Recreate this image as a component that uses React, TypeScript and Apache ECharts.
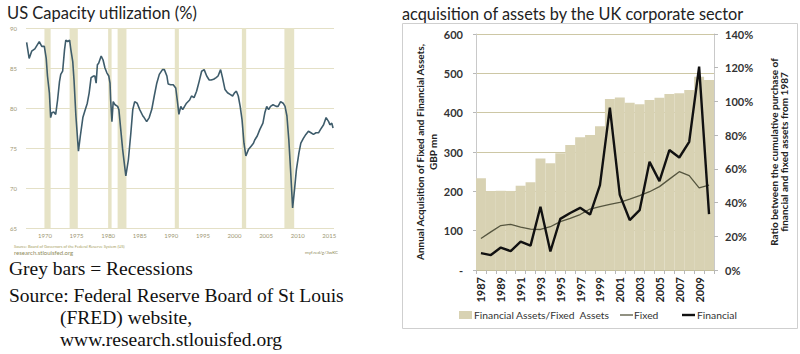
import React, { useEffect, useRef } from "react";
import * as echarts from "echarts";

// ---------- Left chart: US capacity utilization (%) ----------
const capDates = [
  1967.1, 1967.5, 1967.9, 1968.4, 1969.1, 1969.5, 1969.9, 1970.2, 1970.4, 1970.7,
  1970.9, 1971.1, 1971.4, 1971.7, 1972.0, 1972.3, 1972.5, 1972.8, 1973.1, 1973.3,
  1973.6, 1973.9, 1974.1, 1974.4, 1974.6, 1974.9, 1975.3, 1975.6, 1976.0, 1976.3,
  1976.7, 1977.0, 1977.3, 1977.7, 1977.9, 1978.1, 1978.3, 1978.5, 1978.9, 1979.2,
  1979.5, 1979.8, 1980.1, 1980.3, 1980.4, 1980.6, 1980.8, 1981.1, 1981.5, 1981.7,
  1982.0, 1982.3, 1982.8, 1983.2, 1983.6, 1983.9, 1984.2, 1984.6, 1985.0, 1985.5,
  1985.7, 1986.1, 1986.5, 1986.9, 1987.3, 1987.7, 1988.1, 1988.6, 1988.9, 1989.3,
  1989.5, 1989.9, 1990.3, 1990.7, 1991.0, 1991.2, 1991.5, 1991.8, 1992.1, 1992.4,
  1992.9, 1993.2, 1993.6, 1994.0, 1994.4, 1994.8, 1995.2, 1995.6, 1996.0, 1996.3,
  1996.7, 1997.1, 1997.4, 1997.8, 1998.1, 1998.5, 1998.9, 1999.3, 1999.7, 2000.0,
  2000.3, 2000.6, 2000.9, 2001.2, 2001.5, 2001.8, 2002.2, 2002.6, 2003.0, 2003.2,
  2003.6, 2004.0, 2004.5, 2004.8, 2005.1, 2005.4, 2005.7, 2006.1, 2006.6, 2006.9,
  2007.3, 2007.7, 2008.0, 2008.3, 2008.6, 2008.9, 2009.2, 2009.5, 2009.8, 2010.2,
  2010.5, 2010.9, 2011.3, 2011.7, 2012.1, 2012.5, 2012.9, 2013.3, 2013.6, 2014.1,
  2014.5, 2014.9, 2015.1, 2015.4, 2015.6,
];
const capValues = [
  88.2, 86.2, 87.1, 87.4, 88.3, 87.7, 87.7, 86.2, 84.0, 81.9,
  78.8, 79.4, 79.5, 79.2, 81.0, 83.3, 84.2, 84.6, 87.3, 88.5,
  88.3, 88.5, 87.3, 85.8, 83.5, 79.0, 74.6, 76.5, 78.8, 79.6,
  80.6, 81.9, 83.8, 84.0, 84.0, 83.1, 85.4, 85.6, 86.5, 86.0,
  85.0, 84.4, 84.0, 83.1, 81.0, 78.3, 80.8, 80.4, 80.2, 79.8,
  77.3, 74.8, 71.5, 73.5, 76.9, 79.8, 80.8, 80.6, 79.8, 79.0,
  78.8, 78.3, 78.8, 79.8, 81.5, 83.1, 84.2, 84.8, 84.8, 84.0,
  83.0, 82.9, 82.9, 82.5, 80.6, 79.2, 80.2, 79.8, 80.2, 80.6,
  81.0, 81.5, 81.3, 82.1, 83.3, 84.6, 84.8, 84.0, 83.5, 83.5,
  83.6, 83.8, 84.0, 84.8, 83.8, 82.3, 81.9, 81.7, 81.5, 81.9,
  82.1, 81.5, 80.2, 78.5, 75.6, 74.0, 74.8, 75.2, 75.6, 76.0,
  76.5, 77.3, 78.1, 79.4, 80.2, 79.8, 80.2, 80.4, 80.2, 80.2,
  80.8, 80.6, 80.2, 79.0, 76.0, 71.9, 67.5, 69.8, 72.3, 74.4,
  75.6, 76.2, 76.7, 77.1, 76.9, 76.7, 76.9, 76.9, 77.3, 77.9,
  78.8, 78.3, 77.9, 78.1, 77.5,
];
const recessionStarts = [1969.92, 1973.9, 1980.0, 1981.5, 1990.55, 2001.17, 2007.9];
const recessionEnds = [1970.9, 1975.2, 1980.55, 1982.9, 1991.2, 2001.85, 2009.45];
const capXLabels = [1970, 1975, 1980, 1985, 1990, 1995, 2000, 2005, 2010, 2015];

// ---------- Right chart: UK corporate sector ----------
const ukYears = [
  "1987", "1988", "1989", "1990", "1991", "1992", "1993", "1994", "1995", "1996", "1997", "1998",
  "1999", "2000", "2001", "2002", "2003", "2004", "2005", "2006", "2007", "2008", "2009", "2010",
];
const ratioPct = [
  54.5, 46.8, 47.0, 46.9, 50.0, 52.0, 66.2, 63.3, 69.2, 74.1, 78.7, 80.1,
  85.3, 101.4, 102.4, 99.2, 98.3, 100.8, 102.2, 104.4, 104.8, 106.8, 114.7, 112.7,
];
const fixedVals = [
  80, 97, 113, 116, 109, 104, 103, 110, 123, 131, 141, 155,
  161, 167, 172, 180, 189, 199, 212, 231, 250, 240, 209, 216,
];
const financialVals = [
  43, 38, 57, 48, 72, 62, 161, 47, 130, 145, 158, 141,
  216, 413, 191, 127, 152, 275, 226, 305, 286, 326, 517, 142,
];

const BAR_COLOR = "#d8d2b3";
const FIXED_COLOR = "#55553f";
const FIN_COLOR = "#111111";
const SANS = "Lato";
const SERIF = `19.5px "Liberation Serif"`;

export default function App() {
  const ref = useRef<HTMLDivElement>(null);

  useEffect(() => {
    const chart = echarts.init(ref.current!, null, { renderer: "svg" });
    const capData = capDates.map((d, i) => [d, capValues[i]]);
    const recessionAreas = recessionStarts.map((s, i) => [{ xAxis: s }, { xAxis: recessionEnds[i] }]);

    chart.setOption({
      animation: false,
      backgroundColor: "#ffffff",
      grid: [
        { left: 26, top: 28, width: 308, height: 200 },
        { left: 476, top: 34, width: 238, height: 236 },
      ],
      xAxis: [
        {
          gridIndex: 0,
          type: "value",
          min: 1967,
          max: 2015.75,
          axisLine: { show: false },
          axisTick: { show: false },
          splitLine: { show: false },
          axisLabel: {
            customValues: capXLabels,
            formatter: (v: number) => String(v),
            fontSize: 6,
            color: "#9d9774",
            fontFamily: SANS,
            margin: 4,
          },
        },
        {
          gridIndex: 1,
          type: "category",
          data: ukYears,
          axisLine: { lineStyle: { color: "#c4bf9c" } },
          axisTick: { show: true, interval: 0, length: 4, lineStyle: { color: "#b8b8b8" } },
          axisLabel: {
            rotate: 90,
            interval: 1,
            fontSize: 11,
            fontWeight: "bold",
            fontFamily: SANS,
            color: "#222",
            margin: 7,
          },
        },
      ],
      yAxis: [
        {
          gridIndex: 0,
          type: "value",
          min: 65,
          max: 90,
          interval: 5,
          axisLine: { show: false },
          axisTick: { show: false },
          splitLine: { lineStyle: { color: "#e4e0c6", width: 1 } },
          axisLabel: { fontSize: 6, color: "#9d9774", fontFamily: SANS, margin: 9 },
        },
        {
          gridIndex: 1,
          type: "value",
          position: "left",
          min: 0,
          max: 600,
          interval: 100,
          name: "Annual Acquisition of Fixed and Financial Assets,\nGBP mn",
          nameLocation: "middle",
          nameRotate: 90,
          nameGap: 37,
          nameTextStyle: { fontFamily: SANS, fontWeight: "bold", fontSize: 10, lineHeight: 13, color: "#222" },
          axisLine: { show: true, lineStyle: { color: "#c9c9c9" } },
          axisTick: { show: true, length: 3, lineStyle: { color: "#b8b8b8" } },
          splitLine: { lineStyle: { color: "#cdc7a5", width: 1 } },
          axisLabel: {
            fontSize: 11,
            fontWeight: "bold",
            fontFamily: SANS,
            color: "#333",
            margin: 13,
            formatter: (v: number) => (v === 0 ? "-" : String(v)),
          },
        },
        {
          gridIndex: 1,
          type: "value",
          position: "right",
          min: 0,
          max: 140,
          interval: 20,
          name: "Ratio between the cumulative purchase of\nfinancial and fixed assets from 1987",
          nameLocation: "middle",
          nameRotate: 90,
          nameGap: 55,
          nameTextStyle: { fontFamily: SANS, fontWeight: "bold", fontSize: 10, lineHeight: 10, color: "#222" },
          axisLine: { show: true, lineStyle: { color: "#c9c9c9" } },
          axisTick: { show: true, length: 4, lineStyle: { color: "#b8b8b8" } },
          splitLine: { show: false },
          axisLabel: {
            fontSize: 11,
            fontWeight: "bold",
            fontFamily: SANS,
            color: "#333",
            margin: 11,
            formatter: "{value}%",
          },
        },
      ],
      series: [
        {
          name: "Recessions",
          type: "line",
          xAxisIndex: 0,
          yAxisIndex: 0,
          data: capData,
          z: 1,
          silent: true,
          symbol: "none",
          lineStyle: { opacity: 0 },
          markArea: {
            silent: true,
            itemStyle: { color: "#e6e3c6" },
            data: recessionAreas,
          },
        },
        {
          name: "Capacity utilization",
          type: "line",
          xAxisIndex: 0,
          yAxisIndex: 0,
          data: capData,
          z: 3,
          symbol: "none",
          lineStyle: { color: "#3e5c6b", width: 1.6 },
        },
        {
          name: "Financial Assets/Fixed  Assets",
          type: "bar",
          xAxisIndex: 1,
          yAxisIndex: 2,
          data: ratioPct,
          barCategoryGap: "0%",
          itemStyle: { color: BAR_COLOR },
          z: 2,
        },
        {
          name: "Fixed",
          type: "line",
          xAxisIndex: 1,
          yAxisIndex: 1,
          data: fixedVals,
          symbol: "none",
          lineStyle: { color: FIXED_COLOR, width: 1.3 },
          z: 3,
        },
        {
          name: "Financial",
          type: "line",
          xAxisIndex: 1,
          yAxisIndex: 1,
          data: financialVals,
          symbol: "none",
          lineStyle: { color: FIN_COLOR, width: 2.4 },
          z: 4,
        },
      ],
      graphic: [
        // Left titles and notes
        {
          type: "text",
          x: 7,
          y: 13,
          style: { text: "US Capacity utilization (%)", font: `16.5px ${SANS}`, fill: "#222", verticalAlign: "middle" },
        },
        {
          type: "text",
          x: 14,
          y: 246,
          style: {
            text: "Source: Board of Governors of the Federal Reserve System (US)",
            font: `4px ${SANS}`,
            fill: "#a7a060",
            verticalAlign: "middle",
          },
        },
        {
          type: "text",
          x: 14,
          y: 252,
          style: { text: "research.stlouisfed.org", font: `6px ${SANS}`, fill: "#8f8b5a", verticalAlign: "middle" },
        },
        {
          type: "text",
          x: 305,
          y: 252,
          style: { text: "myf.red/g/3wKC", font: `4.5px ${SANS}`, fill: "#8f8b5a", verticalAlign: "middle" },
        },
        {
          type: "text",
          x: 9,
          y: 268,
          style: { text: "Grey bars = Recessions", font: SERIF, fill: "#111", verticalAlign: "middle" },
        },
        {
          type: "text",
          x: 9,
          y: 295,
          style: {
            text: "Source: Federal Reserve Board of St Louis",
            font: SERIF,
            fill: "#111",
            verticalAlign: "middle",
          },
        },
        {
          type: "text",
          x: 60,
          y: 317,
          style: { text: "(FRED) website,", font: SERIF, fill: "#111", verticalAlign: "middle" },
        },
        {
          type: "text",
          x: 60,
          y: 339,
          style: {
            text: "www.research.stlouisfed.org",
            font: SERIF,
            fill: "#111",
            verticalAlign: "middle",
          },
        },
        // Right title and frame
        {
          type: "text",
          x: 402,
          y: 13,
          style: {
            text: "acquisition of assets by the UK corporate sector",
            font: `16.3px ${SANS}`,
            fill: "#222",
            verticalAlign: "middle",
          },
        },
        {
          type: "rect",
          shape: { x: 402.5, y: 23.5, width: 395, height: 305 },
          style: { fill: "none", stroke: "#cfcfcf", lineWidth: 1 },
          z: -1,
        },
        // Legend
        {
          type: "rect",
          shape: { x: 459, y: 311, width: 13, height: 8 },
          style: { fill: BAR_COLOR },
        },
        {
          type: "text",
          x: 474,
          y: 315,
          style: { text: "Financial Assets/Fixed  Assets", font: `10.3px ${SANS}`, fill: "#333", verticalAlign: "middle" },
        },
        {
          type: "line",
          shape: { x1: 620, y1: 315, x2: 633, y2: 315 },
          style: { stroke: FIXED_COLOR, lineWidth: 1.3 },
        },
        {
          type: "text",
          x: 634,
          y: 315,
          style: { text: "Fixed", font: `10.3px ${SANS}`, fill: "#333", verticalAlign: "middle" },
        },
        {
          type: "line",
          shape: { x1: 682, y1: 315, x2: 695, y2: 315 },
          style: { stroke: FIN_COLOR, lineWidth: 2.4 },
        },
        {
          type: "text",
          x: 697,
          y: 315,
          style: { text: "Financial", font: `10.3px ${SANS}`, fill: "#333", verticalAlign: "middle" },
        },
      ],
    });

    return () => chart.dispose();
  }, []);

  return (
    <div
      ref={ref}
      style={{ position: "absolute", left: 0, top: 0, width: 800, height: 354, background: "#fff" }}
    />
  );
}
